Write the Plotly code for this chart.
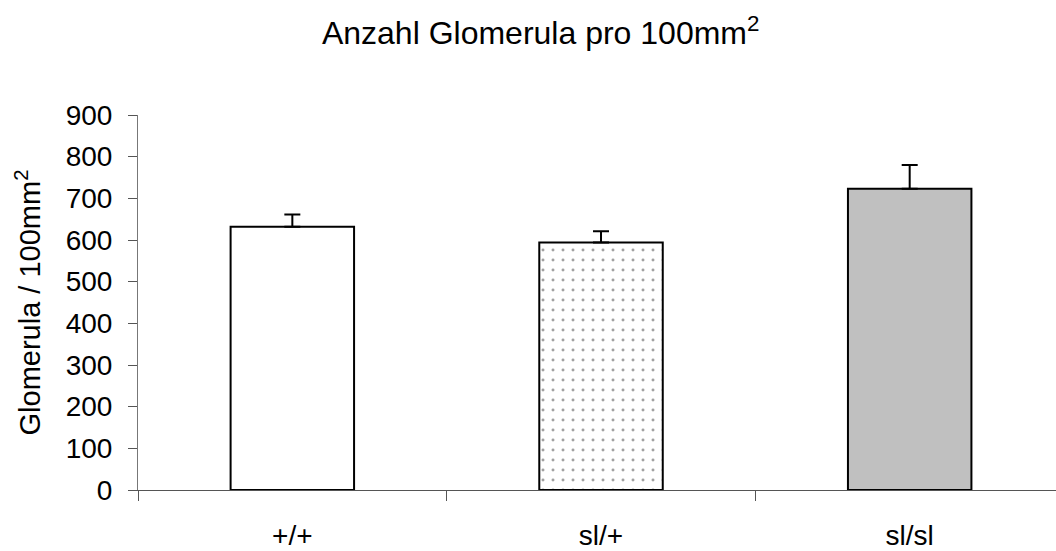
import plotly.graph_objects as go

# Genotype groups and glomerula counts per 100 mm²
genotypes = ["+/+", "sl/+", "sl/sl"]
glomerula_mean = [632, 594, 723]
glomerula_err = [29, 27, 57]

bar_fills = ["white", "white", "#c0c0c0"]
bar_patterns = ["", ".", ""]

FONT = "Liberation Sans, Arial, sans-serif"

fig = go.Figure()
fig.add_trace(go.Bar(
    x=genotypes,
    y=glomerula_mean,
    width=0.4,
    marker=dict(
        color=bar_fills,
        line=dict(color="black", width=2),
        pattern=dict(shape=bar_patterns, fgcolor="black", bgcolor="white",
                     size=10, solidity=0.07),
    ),
    error_y=dict(type="data", array=glomerula_err,
                 arrayminus=[0] * len(glomerula_err),
                 color="black", thickness=2, width=8),
))

fig.update_layout(
    width=1056, height=551,
    margin=dict(l=138, r=0, t=115, b=59),
    plot_bgcolor="white", paper_bgcolor="white",
    showlegend=False,
    title=dict(text="Anzahl Glomerula pro 100mm<sup>2</sup>",
               x=0.512, xanchor="center", y=0.94, yanchor="middle",
               font=dict(family=FONT, size=32, color="black")),
    font=dict(family=FONT, color="black"),
)

fig.update_xaxes(
    range=[-0.5, 2.474],
    showline=True, linecolor="#555", linewidth=1,
    ticks="outside", tickson="boundaries", ticklen=10, tickcolor="#555",
    tickfont=dict(size=28), ticklabelstandoff=20,
    showgrid=False, zeroline=False,
)
fig.update_yaxes(
    range=[0, 900], dtick=100,
    showline=True, linecolor="#777", linewidth=1,
    ticks="outside", ticklen=9, tickcolor="#555",
    tickfont=dict(size=28), ticklabelstandoff=10,
    showgrid=False, zeroline=False,
    title=dict(text="Glomerula / 100mm<sup>2</sup>", font=dict(size=29), standoff=16),
)

fig.write_html("out.html")
